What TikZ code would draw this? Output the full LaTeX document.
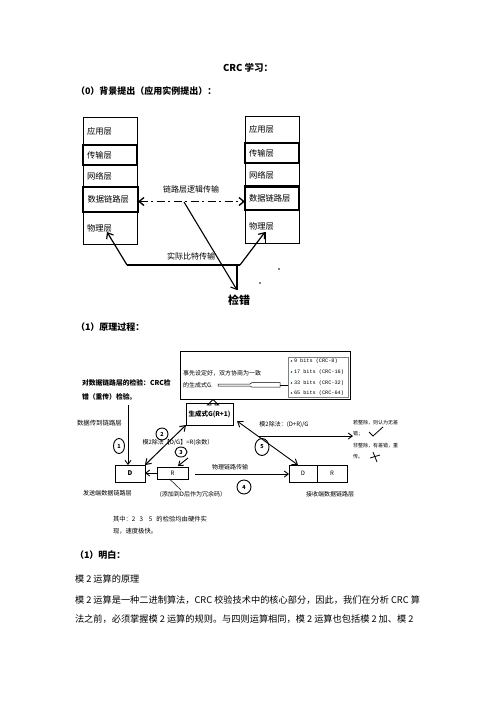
\documentclass[tikz,border=0pt]{standalone}
\usepackage{fontspec}
\setmainfont{Noto Sans CJK SC}
\newfontfamily\monof{Liberation Mono}
\usetikzlibrary{arrows.meta,calc,shapes.geometric}
\begin{document}
\begin{tikzpicture}[x=1pt,y=-1pt,
  every node/.style={inner sep=0pt, outer sep=0pt},
  fs/.style={font=\fontsize{#1}{#1}\selectfont},
  fb/.style={font=\fontsize{#1}{#1}\selectfont\bfseries},
  layer/.style={draw, line width=1pt, minimum width=54pt, anchor=north west,
     inner xsep=4pt, text width=46pt, align=left, font=\fontsize{8.3}{9}\selectfont},
  arr/.style={-{Straight Barb[length=5pt,width=8pt]}},
  sarr/.style={-{Straight Barb[length=4pt,width=6pt]}},
  numc/.style={draw, ellipse, line width=0.9pt, font=\fontsize{5.5}{6}\selectfont\bfseries},
  boxn/.style={draw, anchor=north west, line width=0.9pt},
]
\useasboundingbox (0,0) rectangle (496,702);
\fill[white] (0,0) rectangle (496,702);

% headings
\node[fb=9.5, anchor=west] (title) at (223,68) {CRC 学习：};
\node[fb=9, anchor=west] (h0) at (76,91) {（0）背景提出（应用实例提出）：};

% left stack
\node[layer, minimum height=28pt] (L1) at (83,117) {应用层};
\node[layer, minimum height=20pt, line width=1.4pt] (L2) at (83,145) {传输层};
\node[layer, minimum height=22pt] (L3) at (83,165) {网络层};
\node[layer, minimum height=32pt] (L5) at (83,212) {物理层};
\node[layer, minimum height=25pt, line width=1.4pt, minimum width=55pt] (L4) at (83,187) {数据链路层};

% right stack
\node[layer, minimum height=27pt] (R1) at (245,116) {应用层};
\node[layer, minimum height=20pt, line width=1.4pt] (R2) at (245,143) {传输层};
\node[layer, minimum height=24pt] (R3) at (245,163) {网络层};
\node[layer, minimum height=33pt] (R5) at (245,210) {物理层};
\node[layer, minimum height=24pt, line width=1.4pt, minimum width=52pt] (R4) at (245,186) {数据链路层};

% logical link transfer
\coordinate (dl) at ([yshift=-2pt]L4.east);
\draw[line width=1.3pt, dash pattern=on 8pt off 3.5pt on 2pt off 3.5pt,
  {Straight Barb[length=5pt,width=8pt]}-{Straight Barb[length=5pt,width=8pt]}]
  (dl) -- (dl -| R4.west);
\node[fs=8] (lbl1) at (191,189) {链路层逻辑传输};

% physical transfer
\coordinate (bl) at (127,265);
\coordinate (br) at (240,265);
\coordinate (pl) at (107,232);
\coordinate (pr) at (265,232);
\coordinate (pr2) at (265,243);
\draw[line width=1.3pt] (bl) -- (br);
\draw[line width=1.2pt, arr] (bl) -- (pl);
\draw[line width=1.2pt, arr] (br) -- (pr);
\draw[line width=1pt] (pr) -- (pr2);
\node[fs=8] (lbl2) at (191,256) {实际比特传输};

% error check
\node[fb=11] (jc) at (239,300) {检错};
\coordinate (jt) at (237,290);
\coordinate (m1) at (184,202);
\coordinate (jv) at (237,265);
\draw[line width=1.1pt, arr] (m1) -- (jt);
\draw[line width=1.1pt] (jv) -- (jt);
\fill (279,269) circle (0.9);
\fill (260,283) circle (0.9);

\node[fb=9, anchor=west] (h1) at (76,327) {（1）原理过程：};

% ---------- principle diagram ----------
\node[boxn, line width=1pt, minimum width=170pt, minimum height=48pt] (BB) at (180,351) {};
\node[fs=6, anchor=west] (t1) at (183,373) {事先设定好，双方协商为一致};
\node[fs=6, anchor=west] (t2) at (183,385) {的生成式G.};
\node[boxn, draw=gray, line width=0.5pt, minimum width=60pt, minimum height=40pt] (LB) at (288,357) {};
\foreach \yy/\tt [count=\i] in {361/9 bits (CRC-8), 372/17 bits (CRC-16), 383/33 bits (CRC-32), 393/65 bits (CRC-64)}{
  \fill[teal!70!black] (291.5,\yy) circle (0.9);
  \node[anchor=west, font=\monof\fontsize{5.2}{5.5}\selectfont] (it\i) at (294,\yy) {\tt};
}
% long hollow arrow
\draw[line width=0.5pt] (218,384) -- (250,384) -- (252,382.6) -- (280,382.6) -- (280,387.2)
  -- (252,387.2) -- (250,386) -- (218,386) -- cycle;
\coordinate (la) at (280,385);
\draw[line width=0.6pt] (la) -- (la -| LB.west);

% generator box
\node[boxn, line width=1pt, minimum width=47pt, minimum height=22pt, fb=6.5] (GB) at (186,403) {生成式G(R+1)};
% hollow up arrow
\draw[line width=0.9pt] (211,403) -- (211,405) -- (207.5,405) -- (213,399.5) -- (218.5,405)
  -- (215,405) -- (215,403);

% left texts
\node[fb=6.8, anchor=west] (lt1) at (82,383) {对数据链路层的检验：CRC检};
\node[fb=6.8, anchor=west] (lt2) at (82,397) {错（重传）检验。};
\node[fs=6.4, anchor=west] (lt3) at (77,423) {数据传到链路层};

% sender D and R
\node[boxn, line width=1pt, minimum width=30pt, minimum height=17pt, fb=6.5] (D) at (115,465) {D};
\node[boxn, line width=0.8pt, minimum width=31pt, minimum height=12pt, fs=6] (RB) at (157,467) {R};
\node[fs=6.1, anchor=west] (snd) at (83,493) {发送端数据链路层};

% arrow 1
\coordinate (c1) at (128,405);
\draw[line width=0.9pt, sarr] (c1) -- (c1 |- D.north);
\node[numc, minimum width=11pt, minimum height=15pt] (n1) at (119,446) {1};

% arrow 2
\draw[line width=1pt, {Straight Barb[length=5pt,width=7pt]}-{Straight Barb[length=5pt,width=7pt]}] (D.north east) -- (GB.south west);
\node[numc, minimum width=12pt, minimum height=12pt] (n2) at (162,434) {2};
\node[fs=6] (mod1) at (178,443) {模2除法【D/G】=R(余数）};

% arrow 3
\node[numc, minimum width=12pt, minimum height=10pt] (n3) at (181,452) {3};
\coordinate (c3) at (188,458);
\coordinate (c3b) at (178,466);
\draw[line width=0.9pt, sarr] (c3) -- (c3b);
\draw[line width=0.9pt, sarr] (RB.west) -- (RB.west -| D.east);
\coordinate (rt) at (181,490);
\draw[line width=0.5pt] ([xshift=-3pt]RB.south) -- (rt);
\node[fs=6] (addr) at (193,495) {(添加到D后作为冗余码）};

% receiver
\node[boxn, line width=0.8pt, minimum width=28pt, minimum height=17pt, fs=6] (RXD) at (289,465) {D};
\node[boxn, line width=0.8pt, minimum width=30pt, minimum height=17pt, fs=6] (RXR) at (317,465) {R};
\node[fs=6, anchor=west] (rcv) at (306,494) {接收端数据链路层};

% arrow 4
\coordinate (c4) at (195,474);
\draw[line width=0.9pt, sarr] (c4) -- (c4 -| RXD.west);
\node[fs=6] (lbl4) at (230,467) {物理链路传输};
\node[numc, minimum width=14pt, minimum height=14pt] (n4) at (244,487) {4};

% arrow 5
\coordinate (g5) at (237,421);
\draw[line width=0.9pt, {Straight Barb[length=5pt,width=7pt]}-{Straight Barb[length=5pt,width=7pt]}] (g5) -- ([xshift=-5pt]RXD.north);
\coordinate (h5) at (259,436);
\coordinate (h5e) at (353,436);
\draw[line width=0.9pt, sarr] (h5) -- (h5e);
\node[fs=6] (mod2) at (284,425) {模2除法：(D+R)/G};
\node[numc, minimum width=14pt, minimum height=17pt] (n5) at (262,447) {5};

% right texts
\node[fs=5, anchor=west] (rt1) at (353,423) {若整除，则认为无差};
\node[fs=5, anchor=west] (rt2) at (353,434) {错；};
\node[fs=5, anchor=west] (rt3) at (353,446) {非整除，有差错，重};
\node[fs=5, anchor=west] (rt4) at (353,457) {传。};
\draw[line width=0.8pt] (369,432) -- (373,436) -- (383,427);
\draw[line width=0.8pt] (373,452) -- (377,462);
\draw[line width=0.8pt] (370,458) -- (380,455);

% note
\node[fs=6.3, anchor=west] (nt1) at (113,519) {其中：2\ \ \ 3\ \ \ \ 5\ \ \ 的检验均由硬件实};
\node[fs=6.3, anchor=west] (nt2) at (113,531) {现，速度极快。};

% body
\node[fb=9, anchor=west] (h2) at (75,555) {（1）明白：};
\node[fs=9.2, anchor=west] (b1) at (75,579) {模 2 运算的原理};
\node[fs=9.2, anchor=west] (b2) at (75,600) {模 2 运算是一种二进制算法，CRC 校验技术中的核心部分，因此，我们在分析 CRC 算};
\node[fs=9.2, anchor=west] (b3) at (75,619) {法之前，必须掌握模 2 运算的规则。与四则运算相同，模 2 运算也包括模 2 加、模 2};
\end{tikzpicture}
\end{document}
